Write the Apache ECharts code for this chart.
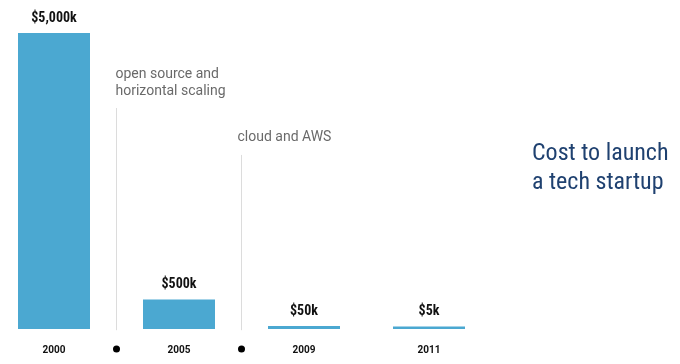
<!DOCTYPE html>
<html><head><meta charset="utf-8">
<script src="https://cdn.jsdelivr.net/npm/echarts@6/dist/echarts.min.js"></script>
<style>html,body{margin:0;padding:0;background:#fff}#c{width:680px;height:364px}</style>
</head><body><div id="c"></div>
<script>
// Data
const years = ['2000', '2005', '2009', '2011'];
const costK = [5000, 500, 50, 5];
const costLabels = ['$5,000k', '$500k', '$50k', '$5k'];
// Annotations: between-category positions (category index units), text, line top value
const eventPos = [0.5, 1.5];
const eventText = ['open source and\nhorizontal scaling', 'cloud and AWS'];
const eventTop = [3733, 2940];
const titleText = 'Cost to launch\na tech startup';

const condensed = "'Roboto Condensed','Liberation Sans Narrow','Arial Narrow','DejaVu Sans Condensed',sans-serif";
const chart = echarts.init(document.getElementById('c'), null, {renderer: 'canvas'});

const lineSeries = eventPos.map((p, i) => ({
  type: 'line', xAxisIndex: 1, yAxisIndex: 0, silent: true, symbol: 'none',
  lineStyle: {color: '#dcdcdc', width: 1}, clip: false, z: 1,
  data: [[p, -20], [p, eventTop[i]]]
}));

chart.setOption({
  animation: false,
  title: {
    text: titleText, left: 532, top: 139, padding: 0,
    textStyle: {color: '#1f4170', fontSize: 24, fontWeight: 'normal', lineHeight: 29, fontFamily: condensed}
  },
  grid: {left: -8.5, width: 500, top: 33, bottom: 35, outerBoundsMode: 'none', containLabel: false},
  xAxis: [{
    type: 'category', data: years, boundaryGap: true,
    axisLine: {show: false}, axisTick: {show: false}, splitLine: {show: false},
    axisLabel: {color: '#111', fontWeight: 'bold', fontSize: 10, margin: 16, fontFamily: 'Roboto, sans-serif'}
  }, {
    type: 'value', min: -0.5, max: 3.5, show: false
  }],
  yAxis: {type: 'value', min: 0, max: 5000, show: false},
  series: [{
    type: 'bar', data: costK, barWidth: 72, barMinHeight: 2.5,
    itemStyle: {color: '#4ba8d1'}, z: 3,
    label: {show: true, position: 'top', distance: 8,
      formatter: p => costLabels[p.dataIndex],
      color: '#111', fontWeight: 'bold', fontSize: 14, fontFamily: condensed}
  }, ...lineSeries, {
    type: 'scatter', xAxisIndex: 1, yAxisIndex: 0, symbolSize: 7, clip: false, silent: true,
    itemStyle: {color: '#000', opacity: 1},
    data: eventPos.map(p => [p, -338])
  }, {
    type: 'scatter', xAxisIndex: 1, yAxisIndex: 0, symbolSize: 1, clip: false, silent: true,
    itemStyle: {color: 'rgba(0,0,0,0)'},
    data: eventPos.map((p, i) => ({value: [p, eventTop[i]], label: {offset: [i === 0 ? -1 : -4, 0]}})),
    label: {
      show: true, position: 'top', align: 'left', distance: 8,
      formatter: p => eventText[p.dataIndex], color: '#444', fontSize: 14, lineHeight: 17,
      fontFamily: 'Roboto, sans-serif', fontWeight: 'normal'
    }
  }]
});
</script></body></html>
